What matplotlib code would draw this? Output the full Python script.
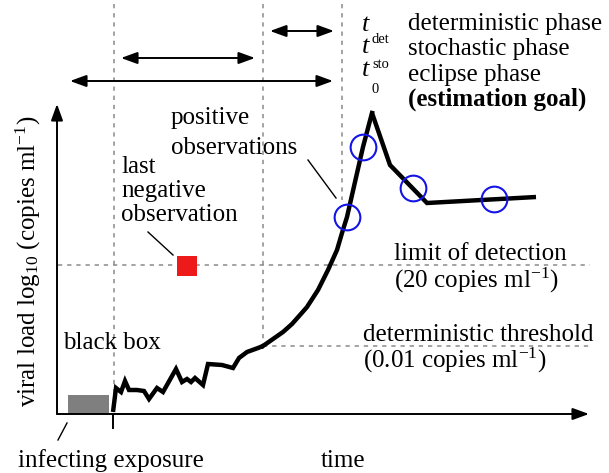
import matplotlib
matplotlib.use('Agg')
import matplotlib.pyplot as plt

plt.rcParams['font.family'] = ['Liberation Serif', 'DejaVu Serif']
plt.rcParams['mathtext.fontset'] = 'custom'
plt.rcParams['mathtext.rm'] = 'Liberation Serif'
plt.rcParams['mathtext.it'] = 'Liberation Serif:italic'
plt.rcParams['mathtext.bf'] = 'Liberation Serif:bold'

# ---- schematic values (time units / log viral load units) ----
stoch_t = [56, 59, 64, 68, 72, 80, 87, 92, 100, 106, 119, 125, 130, 134, 138, 146, 151, 165, 176, 182, 190, 201, 206]
stoch_v = [2, 26, 22, 33, 24, 24, 23, 15, 26, 22, 45, 32, 35, 32, 36, 29, 50, 49, 46, 56, 62, 66, 68]
det_t = [206, 216, 226, 235, 243, 250, 261, 271, 280, 285, 290, 298, 306, 315]
det_v = [68, 75, 82, 90, 99, 107, 124, 144, 164, 181, 197, 232, 267, 301]
post_t = [315, 333, 370, 479]
post_v = [301, 249, 211, 217]
obs_t = [290, 306, 356, 437]
obs_v = [197, 267, 226, 215]
neg_t = [129.5]
neg_v = [148]
lod = 149
det_threshold = 68
t_exposure = 11
t0_line = 57
tsto_line = 206
tdet_line = 285
box_width = 41
box_height = 19

fig = plt.figure(figsize=(6.09, 4.73), dpi=100)
ax = fig.add_axes([0, 0, 1, 1])
ax.set_xlim(-57, 552)
ax.set_ylim(-59, 414)
ax.axis('off')

dash_kw = dict(color='#8a8a8a', lw=1.1, linestyle=(0, (2.8, 3.2)), zorder=1)
# vertical phase boundaries
ax.plot([t0_line, t0_line], [410, 20], **dash_kw)
ax.plot([tsto_line, tsto_line], [410, det_threshold], **dash_kw)
ax.plot([tdet_line, tdet_line], [410, 214], **dash_kw)
# horizontal thresholds
ax.plot([1, 533], [lod, lod], **dash_kw)
ax.plot([tsto_line, 533], [det_threshold, det_threshold], **dash_kw)

# axes arrows
ax_kw = dict(arrowstyle='-|>,head_length=0.55,head_width=0.2', lw=1.4, color='black',
             shrinkA=0, shrinkB=0, mutation_scale=18)
ax.annotate('', xy=(0, 310), xytext=(0, 0), arrowprops=ax_kw, zorder=3)
ax.annotate('', xy=(532, 0), xytext=(0, 0), arrowprops=ax_kw, zorder=3)
# exposure tick
ax.plot([56, 56], [0, -14], color='black', lw=1.4)

# phase duration arrows
dbl_kw = dict(arrowstyle='<|-|>,head_length=0.55,head_width=0.2', lw=1.4, color='black',
              shrinkA=0, shrinkB=0, mutation_scale=18)
ax.annotate('', xy=(213, 383), xytext=(277, 383), arrowprops=dbl_kw)
ax.annotate('', xy=(64, 356), xytext=(198, 356), arrowprops=dbl_kw)
ax.annotate('', xy=(13, 333), xytext=(276, 333), arrowprops=dbl_kw)

# black box
ax.bar([t_exposure], [box_height], width=box_width, bottom=0, align='edge',
       color='#7f7f7f', zorder=2)

# viral load curve
curve_kw = dict(color='black', lw=3.2, solid_joinstyle='miter', solid_capstyle='butt', zorder=4)
ax.plot(stoch_t, stoch_v, **curve_kw)
ax.plot(det_t, det_v, color='black', lw=3.2, solid_joinstyle='round', zorder=4)
ax.plot(post_t, post_v, **curve_kw)

# observations
ax.plot(obs_t, obs_v, linestyle='none', marker='o', markersize=18.5, markerfacecolor='none',
        markeredgecolor='#1414e6', markeredgewidth=1.5, zorder=5)
ax.plot(neg_t, neg_v, linestyle='none', marker='s', markersize=15, color='#ee1a1a',
        markeredgewidth=0, zorder=5)

# pointer lines
ptr_kw = dict(color='black', lw=1.0, zorder=3)
ax.plot([251, 279], [254, 216], **ptr_kw)
ax.plot([91, 116], [182, 159], **ptr_kw)
ax.plot([1, 10], [-26, -9], **ptr_kw)

fs = 18
tk = dict(fontsize=fs, va='baseline', ha='left')
ax.text(351, 384, 'deterministic phase', **tk)
ax.text(351, 359, 'stochastic phase', **tk)
ax.text(351, 333.5, 'eclipse phase', **tk)
ax.text(351, 308, '(estimation goal)', fontweight='bold', **tk)

# t labels
for yb in (383, 361, 338):
    ax.text(305, yb, 't', fontsize=19, style='italic', va='baseline', ha='left')
ax.text(315, 371, 'det', fontsize=10.5, va='baseline', ha='left')
ax.text(315, 346, 'sto', fontsize=10.5, va='baseline', ha='left')
ax.text(315, 321, '0', fontsize=10.5, va='baseline', ha='left')

ax.text(114, 290, 'positive', **tk)
ax.text(114, 260, 'observations', **tk)
ax.text(64, 241, 'last', **tk)
ax.text(64, 217, 'negative', **tk)
ax.text(64, 193, 'observation', **tk)
ax.text(337, 154, 'limit of detection', **tk)
ax.text(337, 126, '(20 copies ml$^{-1}$)', **tk)
ax.text(306, 73, 'deterministic threshold', **tk)
ax.text(306, 46, '(0.01 copies ml$^{-1}$)', **tk)
ax.text(6, 65, 'black box', **tk)
ax.text(-39, -53, 'infecting exposure', **tk)
ax.text(264, -53, 'time', **tk)
ax.text(-29, 153, 'viral load log$_{10}$ (copies ml$^{-1}$)', fontsize=fs, rotation=90,
        ha='center', va='center')

fig.savefig('out.png', dpi=100)
